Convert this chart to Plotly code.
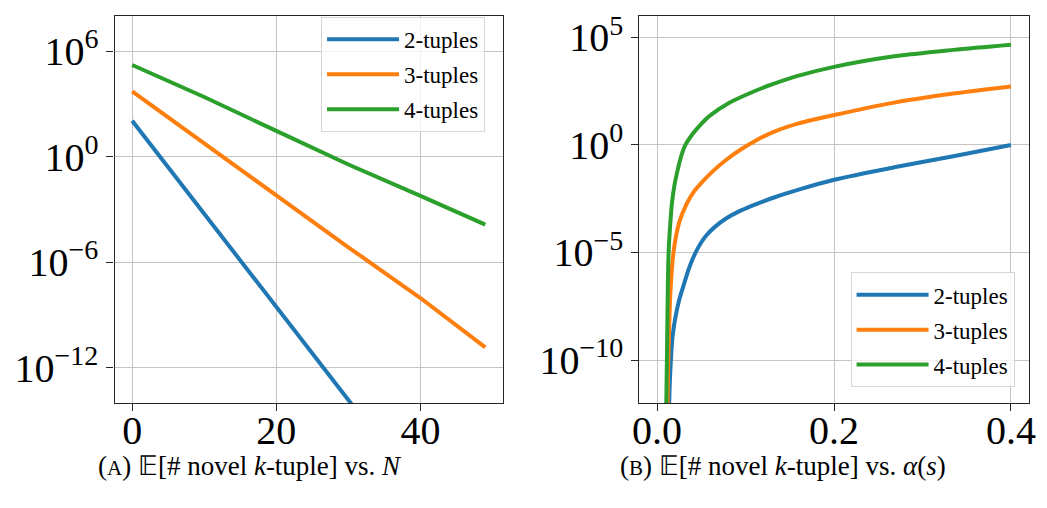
import plotly.graph_objects as go

SERIF = "Liberation Serif"
BLUE, ORANGE, GREEN = "#1f77b4", "#ff7f0e", "#2ca02c"

# ---- Panel (A): expected number of novel k-tuples against N ----
n_pairs = [0, 10, 20, 30, 32]
e2_vs_n = [110, 5.6e-4, 2.8e-9, 1.6e-14, 1.3e-15]
n_steps = [0, 10, 20, 30, 40, 49]
e3_vs_n = [5100, 5.5, 5.9e-3, 7.1e-6, 9.3e-9, 1.45e-11]
e4_vs_n = [1.62e5, 2.45e3, 29, 0.36, 5.9e-3, 1.38e-4]

# ---- Panel (B): expected number of novel k-tuples against alpha(s) ----
alpha_2 = [0.0134, 0.0137, 0.0145, 0.0156, 0.0175, 0.0204, 0.0250, 0.0297,
           0.0360, 0.0427, 0.0500, 0.0556, 0.0650, 0.0779, 0.0950, 0.1113,
           0.1346, 0.1600, 0.2000, 0.2681, 0.3349, 0.4000]
e2_vs_alpha = [1e-14, 1e-12, 1.26e-11, 1e-10, 1.26e-9, 8.1e-9, 6.3e-8, 2.75e-7,
               1.8e-6, 8.5e-6, 3.0e-5, 6.2e-5, 1.51e-4, 3.8e-4, 9.1e-4, 1.74e-3,
               3.9e-3, 8.3e-3, 2.4e-2, 9.1e-2, 0.295, 1.0]
alpha_3 = [0.0116, 0.0119, 0.0125, 0.0134, 0.0150, 0.0185, 0.0250, 0.0334,
           0.0420, 0.0519, 0.0650, 0.0779, 0.0950, 0.1113, 0.1346, 0.1600,
           0.2000, 0.2681, 0.3349, 0.4000]
e3_vs_alpha = [1e-14, 1e-12, 5.0e-11, 1.4e-9, 1.26e-7, 1e-5, 2.5e-4, 1.8e-3,
               7.1e-3, 2.1e-2, 7.1e-2, 0.2, 0.63, 1.58, 4.5, 10.0,
               24.5, 93, 245, 525]
alpha_4 = [0.0101, 0.0104, 0.0111, 0.0119, 0.0130, 0.0150, 0.0167, 0.0195,
           0.0230, 0.0270, 0.0320, 0.0408, 0.0500, 0.0593, 0.0797,
           0.1113, 0.1290, 0.1600, 0.2000, 0.2681, 0.3349, 0.4000]
e4_vs_alpha = [1e-14, 1e-12, 1e-10, 5.0e-8, 1e-5, 2.5e-4, 1.8e-3, 1.26e-2,
               6.2e-2, 0.28, 1.0, 3.5, 9.5, 22.4, 83,
               331, 631, 1660, 4270, 1.32e4, 2.63e4, 4.57e4]

series_names = ["2-tuples", "3-tuples", "4-tuples"]
series_colors = [BLUE, ORANGE, GREEN]

# ---- tick marks ----
n_ticks = [0, 20, 40]
alpha_ticks = [0.0, 0.2, 0.4]
alpha_tick_text = ["0.0", "0.2", "0.4"]
left_y_ticks = [1e6, 1e0, 1e-6, 1e-12]
left_y_text = ["10<sup>6</sup>", "10<sup>0</sup>", "10<sup>\u22126</sup>", "10<sup>\u221212</sup>"]
right_y_ticks = [1e5, 1e0, 1e-5, 1e-10]
right_y_text = ["10<sup>5</sup>", "10<sup>0</sup>", "10<sup>\u22125</sup>", "10<sup>\u221210</sup>"]

captions = [
    "(<span style='font-size:21px'>A</span>) \U0001D53C[# novel <i>k</i>-tuple] vs. <i>N</i>",
    "(<span style='font-size:21px'>B</span>) \U0001D53C[# novel <i>k</i>-tuple] vs. <i>\u03b1</i>(<i>s</i>)",
]

fig = go.Figure()

left_data = [(n_pairs, e2_vs_n), (n_steps, e3_vs_n), (n_steps, e4_vs_n)]
right_data = [(alpha_2, e2_vs_alpha), (alpha_3, e3_vs_alpha), (alpha_4, e4_vs_alpha)]

for (x, y), name, color in zip(left_data, series_names, series_colors):
    fig.add_trace(go.Scatter(x=x, y=y, mode="lines", name=name,
                             line=dict(color=color, width=4),
                             xaxis="x", yaxis="y", legend="legend",
                             legendgroup="a" + name))
for (x, y), name, color in zip(right_data, series_names, series_colors):
    fig.add_trace(go.Scatter(x=x, y=y, mode="lines", name=name,
                             line=dict(color=color, width=4, shape="spline",
                                       smoothing=0.8),
                             xaxis="x2", yaxis="y2", legend="legend2",
                             legendgroup="b" + name))

axis_style = dict(
    showline=True, mirror=True, linecolor="#262626", linewidth=1.3,
    showgrid=True, gridcolor="#c4c4c4", gridwidth=1.2,
    ticks="outside", ticklen=7, tickwidth=1.3, tickcolor="#262626",
    tickfont=dict(family=SERIF, size=40, color="black"),
    zeroline=False,
)

y_domain = [0.2091, 0.9803]
legend_style = dict(
    xanchor="left", yanchor="top",
    bgcolor="rgba(255,255,255,0.8)", bordercolor="#d6d6d6", borderwidth=1,
    font=dict(family=SERIF, size=23, color="black"),
    tracegroupgap=2, itemwidth=72,
)

fig.update_layout(
    width=1047, height=508,
    margin=dict(l=0, r=0, t=0, b=0),
    paper_bgcolor="white", plot_bgcolor="white",
    font=dict(family=SERIF, color="black"),
    xaxis=dict(domain=[0.1041, 0.4801], anchor="y", range=[-2.45, 51.45],
               tickvals=n_ticks, ticklabelstandoff=-15, **axis_style),
    yaxis=dict(domain=y_domain, anchor="x", type="log", range=[-14, 8],
               tickvals=left_y_ticks, ticktext=left_y_text, **axis_style),
    xaxis2=dict(domain=[0.6122, 0.9890], anchor="y2", range=[-0.02, 0.42],
                tickvals=alpha_ticks, ticktext=alpha_tick_text,
                ticklabelstandoff=-15, **axis_style),
    yaxis2=dict(domain=y_domain, anchor="x2", type="log", range=[-12, 6],
                tickvals=right_y_ticks, ticktext=right_y_text, **axis_style),
    legend=dict(x=0.304, y=0.9783, **legend_style),
    legend2=dict(x=0.8166, y=0.4695, **legend_style),
    showlegend=True,
)

for text, xc in zip(captions, [246 / 1047, 787 / 1047]):
    fig.add_annotation(text=text, x=xc, y=0.0827, xref="paper", yref="paper",
                       xanchor="center", yanchor="middle", showarrow=False,
                       font=dict(family=SERIF, size=27, color="black"))

fig.write_html("out.html")
